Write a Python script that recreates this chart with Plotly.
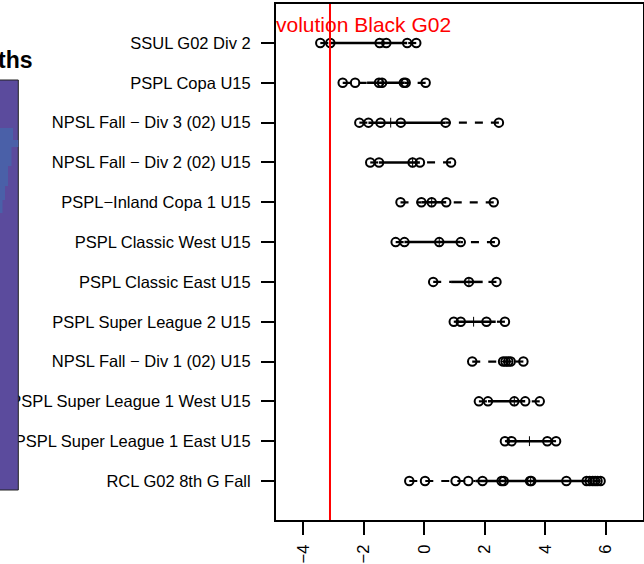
import math
import plotly.graph_objects as go

# ---------------- data ----------------
categories = [
    "RCL G02 8th G Fall",
    "PSPL Super League 1 East U15",
    "PSPL Super League 1 West U15",
    "NPSL Fall \u2212 Div 1 (02) U15",
    "PSPL Super League 2 U15",
    "PSPL Classic East U15",
    "PSPL Classic West U15",
    "PSPL\u2212Inland Copa 1 U15",
    "NPSL Fall \u2212 Div 2 (02) U15",
    "NPSL Fall \u2212 Div 3 (02) U15",
    "PSPL Copa U15",
    "SSUL G02 Div 2",
]

rcl_g02_8th_g_fall = [-0.50, 0.02, 1.03, 1.45, 1.92, 2.55, 2.62, 3.49, 3.53, 4.69,
                      5.36, 5.46, 5.56, 5.64, 5.72, 5.82]
pspl_sl1_east = [2.66, 2.88, 4.06, 4.35]
pspl_sl1_west = [1.80, 2.10, 2.97, 3.33, 3.81]
npsl_div1 = [1.58, 2.60, 2.68, 2.77, 2.85, 3.27]
pspl_sl2 = [0.97, 1.20, 2.05, 2.66]
pspl_classic_east = [0.29, 1.47, 2.38]
pspl_classic_west = [-0.95, -0.66, 0.49, 1.20, 2.33]
pspl_inland_copa1 = [-0.79, -0.10, 0.24, 0.72, 2.29]
npsl_div2 = [-1.79, -1.50, -0.39, -0.15, 0.88]
npsl_div3 = [-2.15, -1.85, -1.45, -0.78, 0.70, 2.46]
pspl_copa = [-2.70, -2.29, -1.50, -1.40, -0.68, -0.62, 0.04]
ssul_g02_div2 = [-3.44, -3.11, -1.48, -1.26, -0.57, -0.27]

x_ticks = [-4, -2, 0, 2, 4, 6]
reference_value = -3.12
reference_label = "volution Black G02"
side_title = "ths"

series = [rcl_g02_8th_g_fall, pspl_sl1_east, pspl_sl1_west, npsl_div1, pspl_sl2,
          pspl_classic_east, pspl_classic_west, pspl_inland_copa1, npsl_div2,
          npsl_div3, pspl_copa, ssul_g02_div2]
positions = list(range(1, len(categories) + 1))


def fivenum(v):
    x = sorted(v)
    n = len(x)
    n4 = math.floor((n + 3) / 2) / 2
    d = [1, n4, (n + 1) / 2, n + 1 - n4, n]
    return [0.5 * (x[math.floor(di) - 1] + x[math.ceil(di) - 1]) for di in d]


# ---------------- geometry helpers (layout) ----------------
W, H = 644, 564
ML, MR, MT, MB = 276, 1, 4, 44
PW, PH = W - ML - MR, H - MT - MB


def px(xp):
    return (xp - ML) / PW


def py(yp):
    return (H - MB - yp) / PH


BLACK = "#000000"
FONT = "Liberation Sans, Arial, Helvetica, sans-serif"

# ---------------- traces ----------------
wx, wy, bx, by, mx, my, ptx, pty = [], [], [], [], [], [], [], []
for pos, vals in zip(positions, series):
    s = fivenum(vals)
    wx += [s[0], s[1], None, s[4], s[3], None]
    wy += [pos, pos, None, pos, pos, None]
    bx += [s[1], s[3], None]
    by += [pos, pos, None]
    mx.append(s[2])
    my.append(pos)
    ptx += vals
    pty += [pos] * len(vals)

fig = go.Figure()
fig.add_trace(go.Scatter(x=wx, y=wy, mode="lines", hoverinfo="skip",
                         line=dict(color=BLACK, width=2.2, dash="8px,8px")))
fig.add_trace(go.Scatter(x=bx, y=by, mode="lines", hoverinfo="skip",
                         line=dict(color=BLACK, width=2.5)))
fig.add_trace(go.Scatter(x=mx, y=my, mode="markers",
                         marker=dict(symbol="cross-thin-open", size=7, color=BLACK,
                                     line=dict(color=BLACK, width=1))))
fig.add_trace(go.Scatter(x=ptx, y=pty, mode="markers",
                         marker=dict(symbol="circle-open", size=8.5, color=BLACK,
                                     line=dict(color=BLACK, width=2))))

# ---------------- layout ----------------
purple = "#5B4B9D"
blue = "#4A60A8"
blue_pts = [(-6, 128), (13, 128), (13, 140), (18.3, 140), (18.3, 147), (11.5, 147),
            (11.5, 166), (8, 166), (8, 186), (5, 186), (5, 200), (2.5, 200),
            (2.5, 213), (-6, 213)]
blue_path = "M " + " L ".join(f"{px(a):.5f},{py(b):.5f}" for a, b in blue_pts) + " Z"

shapes = [
    dict(type="rect", xref="paper", yref="paper", x0=px(-6), x1=px(18.3),
         y0=py(490), y1=py(80), fillcolor=purple, line=dict(color="#222222", width=1),
         layer="above"),
    dict(type="path", xref="paper", yref="paper", path=blue_path, fillcolor=blue,
         line=dict(width=0), layer="above"),
    dict(type="line", xref="x", yref="paper", x0=reference_value, x1=reference_value,
         y0=0, y1=1, line=dict(color="#FF0000", width=2), layer="above"),
]

annotations = [
    dict(text=reference_label, xref="paper", yref="paper", x=px(274), y=py(25),
         xanchor="left", yanchor="middle", showarrow=False,
         font=dict(family=FONT, size=21, color="#FF0000")),
    dict(text=f"<b>{side_title}</b>", xref="paper", yref="paper", x=px(35), y=py(60),
         xanchor="right", yanchor="middle", showarrow=False,
         font=dict(family=FONT, size=23, color=BLACK)),
]

fig.update_layout(
    width=W, height=H,
    margin=dict(l=ML, r=MR, t=MT, b=MB, pad=0),
    paper_bgcolor="white", plot_bgcolor="white",
    showlegend=False,
    font=dict(family=FONT, color=BLACK, size=16.5),
    shapes=shapes, annotations=annotations,
    xaxis=dict(range=[-4.904, 7.222], tickmode="array", tickvals=x_ticks,
               ticks="outside", ticklen=13, tickwidth=1.5, tickcolor=BLACK,
               showline=True, linecolor=BLACK, linewidth=2, mirror=True,
               showgrid=False, zeroline=False, tickangle=-90,
               tickfont=dict(size=16.5), ticklabelstandoff=3, automargin=False),
    yaxis=dict(range=[0.02, 12.98], tickmode="array", tickvals=positions,
               ticktext=categories, ticks="outside", ticklen=13, tickwidth=1.5,
               tickcolor=BLACK, showline=True, linecolor=BLACK, linewidth=2,
               mirror=True, showgrid=False, zeroline=False,
               tickfont=dict(size=16.5), ticklabelstandoff=7, automargin=False),
)

fig.write_html(
    "out.html",
    config={"displayModeBar": False},
    post_script="document.body.style.margin='0';document.body.style.overflow='hidden';",
)
